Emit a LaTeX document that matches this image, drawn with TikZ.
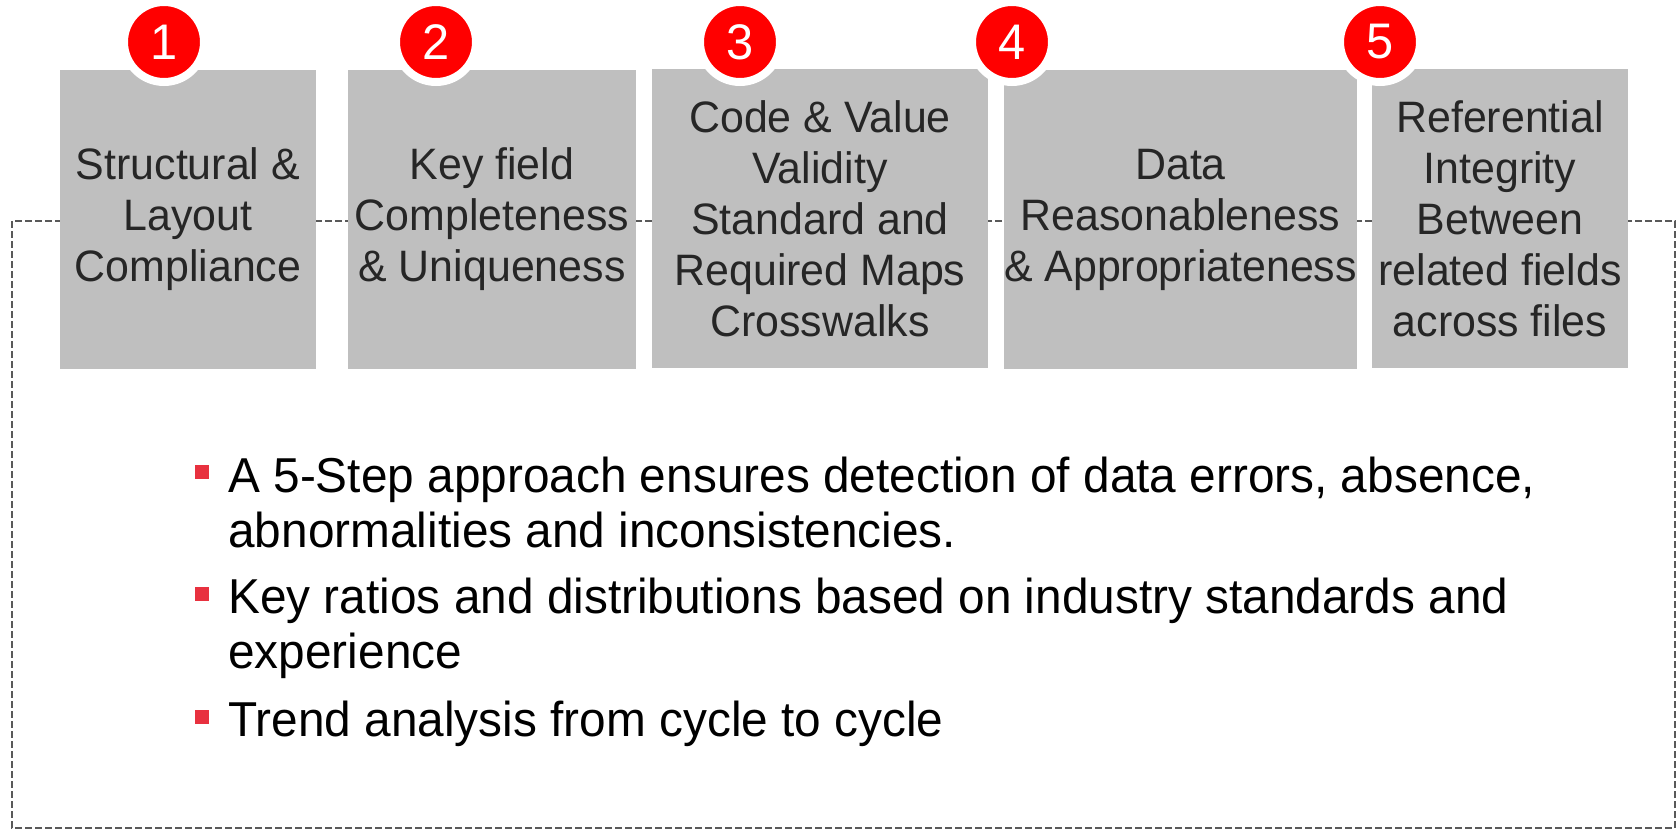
\documentclass[tikz,border=0pt]{standalone}
\usepackage{fontspec}
\setmainfont{Liberation Sans}[FakeStretch=0.975]
\definecolor{stagegray}{HTML}{BFBFBF}
\definecolor{stagetext}{HTML}{262626}
\definecolor{numred}{HTML}{FF0000}
\definecolor{bulletred}{HTML}{E8313F}
\definecolor{framegray}{HTML}{595959}

\begin{document}
\begin{tikzpicture}
[x=0.5pt, y=-0.5pt,
 stage/.style={fill=stagegray, text=stagetext, align=center, inner sep=0,
   minimum height=149.5pt, font={\fontsize{22}{25.5}\selectfont}},
 num/.style={circle, fill=numred, draw=white, line width=4pt, minimum size=40pt,
   inner sep=0, text=white, font={\fontsize{25}{25}\selectfont}},
 bul/.style={fill=bulletred, minimum size=7pt, inner sep=0},
 point/.style={anchor=base west, inner sep=0, align=left,
   font={\fontsize{24.5}{27.5}\selectfont}}]
\useasboundingbox (0,0) rectangle (1676,829);

% frame round the whole process
\draw[framegray, line width=1.4pt, dash pattern=on 3.5pt off 1.5pt] (12,221) rectangle (1675,828);

\node (s1) at (188,219.5) [stage, minimum width=128pt] {Structural \&\\Layout\\Compliance};
\node (s2) at (492,219.5) [stage, minimum width=144pt] {Key field\\Completeness\\\& Uniqueness};
\node (s3) at (820,218.5) [stage, minimum width=168pt] {Code \& Value\\Validity\\Standard and\\Required Maps\\Crosswalks};
\node (s4) at (1180.5,219.5) [stage, minimum width=175.5pt] {Data\\Reasonableness\\\& Appropriateness};
\node (s5) at (1500,218.5) [stage, minimum width=128pt] {Referential\\Integrity\\Between\\related fields\\across files};

\node (n1) at (164,42) [num] {1};
\node (n2) at (436,42) [num] {2};
\node (n3) at (740,42) [num] {3};
\node (n4) at (1012,42) [num] {4};
\node (n5) at (1380,42) [num] {5};

\node (b1) at (202,472) [bul] {};
\node (b2) at (202,594) [bul] {};
\node (b3) at (202,717) [bul] {};

% base sits on the last line of each point
\node (p1) at (228,547) [point] {A 5-Step approach ensures detection of data errors, absence,\\abnormalities and inconsistencies.};
\node (p2) at (228,668) [point] {Key ratios and distributions based on industry standards and\\experience};
\node (p3) at (228,736) [point] {Trend analysis from cycle to cycle};
\end{tikzpicture}
\end{document}
